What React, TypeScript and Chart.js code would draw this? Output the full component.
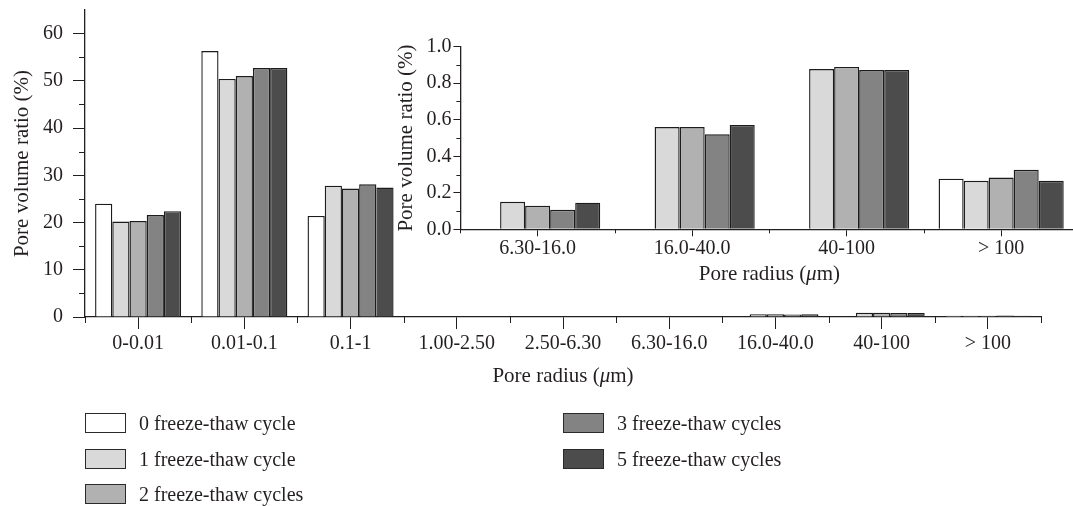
import React, { useEffect, useRef } from "react";
import { Chart, registerables } from "chart.js";

Chart.register(...registerables);

// ---------- data ----------
const categories = ["0-0.01", "0.01-0.1", "0.1-1", "1.00-2.50", "2.50-6.30", "6.30-16.0", "16.0-40.0", "40-100", "> 100"];
const seriesLabels = ["0 freeze-thaw cycle", "1 freeze-thaw cycle", "2 freeze-thaw cycles", "3 freeze-thaw cycles", "5 freeze-thaw cycles"];
const cycle0 = [24.0, 56.3, 21.4, 0, 0, 0, 0, 0, 0.277];
const cycle1 = [20.2, 50.4, 27.8, 0, 0, 0.151, 0.56, 0.878, 0.266];
const cycle2 = [20.3, 51.0, 27.2, 0, 0, 0.129, 0.56, 0.889, 0.283];
const cycle3 = [21.6, 52.7, 28.1, 0, 0, 0.107, 0.52, 0.872, 0.326];
const cycle5 = [22.4, 52.7, 27.4, 0, 0, 0.146, 0.571, 0.872, 0.266];
const insetStart = 5; // inset shows the last four pore radius classes
const mainYMinor = [5, 15, 25, 35, 45, 55];
const insetYMinor = [0.1, 0.3, 0.5, 0.7, 0.9];
const yTitle = "Pore volume ratio (%)";
const xTitleParts = ["Pore radius (", "\u03bc", "m)"];

// ---------- styles ----------
const ink = "#231f20";
const fills = ["#ffffff", "#d9d9d9", "#b1b1b1", "#838383", "#4c4c4c"];
const FONT = "'Liberation Serif', 'Times New Roman', serif";

Chart.defaults.font.family = FONT;
Chart.defaults.color = ink;

const allSeries = [cycle0, cycle1, cycle2, cycle3, cycle5];

function makeDatasets(start: number) {
  return allSeries.map((s, i) => ({
    label: seriesLabels[i],
    data: s.slice(start),
    backgroundColor: fills[i],
    borderColor: "#1c1c1c",
    borderWidth: 1.4,
    borderSkipped: "start" as const,
    categoryPercentage: 0.81,
    barPercentage: 1.0,
  }));
}

function decorPlugin(yMinor: number[], minorLen: number, titleDy: number, titleSize: number) {
  return {
    id: "decor",
    afterDraw(chart: any) {
      const { ctx, chartArea } = chart;
      const xs = chart.scales.x;
      const ys = chart.scales.y;
      const n = xs.getLabels().length;
      ctx.save();
      ctx.strokeStyle = ink;
      ctx.lineWidth = 1;
      ctx.beginPath();
      for (let k = 0; k <= n; k++) {
        const px = Math.round(xs.getPixelForValue(k - 0.5)) + 0.5;
        ctx.moveTo(px, chartArea.bottom);
        ctx.lineTo(px, chartArea.bottom + minorLen);
      }
      for (const v of yMinor) {
        const py = Math.round(ys.getPixelForValue(v)) + 0.5;
        ctx.moveTo(chartArea.left, py);
        ctx.lineTo(chartArea.left - minorLen, py);
      }
      ctx.stroke();
      // x-axis title with italic mu
      const fonts = [
        `${titleSize}px ${FONT}`,
        `italic ${titleSize}px ${FONT}`,
        `${titleSize}px ${FONT}`,
      ];
      let total = 0;
      const widths = xTitleParts.map((t, i) => {
        ctx.font = fonts[i];
        const w = ctx.measureText(t).width;
        total += w;
        return w;
      });
      let x = (chartArea.left + chartArea.right) / 2 - total / 2;
      const y = chartArea.bottom + titleDy;
      ctx.fillStyle = ink;
      ctx.textBaseline = "middle";
      ctx.textAlign = "left";
      xTitleParts.forEach((t, i) => {
        ctx.font = fonts[i];
        ctx.fillText(t, x, y);
        x += widths[i];
      });
      ctx.restore();
    },
  };
}

function baseOptions(cfg: {
  pad: { left: number; top: number; right: number; bottom: number };
  yWidth: number;
  xHeight: number;
  yMax: number;
  yStep: number;
  majorLen: number;
  xTickPad: number;
  yTickPad: number;
  decimals: number;
}) {
  return {
    responsive: false,
    animation: false as const,
    devicePixelRatio: 1,
    layout: { padding: cfg.pad },
    plugins: { legend: { display: false }, tooltip: { enabled: false } },
    scales: {
      x: {
        type: "category" as const,
        offset: true,
        grid: { offset: false, drawOnChartArea: false, drawTicks: true, tickLength: cfg.majorLen, color: ink, lineWidth: 1 },
        border: { display: true, color: ink, width: 1.3 },
        ticks: { padding: cfg.xTickPad, color: ink, font: { size: 20 }, maxRotation: 0, autoSkip: false },
        afterFit: (s: any) => {
          s.height = cfg.xHeight;
          s.paddingLeft = 0;
          s.paddingRight = 0;
        },
      },
      y: {
        min: 0,
        max: cfg.yMax,
        ticks: {
          stepSize: cfg.yStep,
          includeBounds: false,
          padding: cfg.yTickPad,
          color: ink,
          font: { size: 20 },
          callback: (v: any) => Number(v).toFixed(cfg.decimals),
        },
        grid: { drawOnChartArea: false, drawTicks: true, tickLength: cfg.majorLen, color: ink, lineWidth: 1 },
        border: { display: true, color: ink, width: 1.3 },
        title: { display: true, text: yTitle, color: ink, font: { size: 21 }, padding: 0 },
        afterFit: (s: any) => {
          s.width = cfg.yWidth;
          s.paddingTop = 0;
          s.paddingBottom = 0;
        },
      },
    },
  };
}

export default function App() {
  const mainRef = useRef<HTMLCanvasElement>(null);
  const insetRef = useRef<HTMLCanvasElement>(null);

  useEffect(() => {
    const main = new Chart(mainRef.current!, {
      type: "bar",
      data: { labels: categories, datasets: makeDatasets(0) },
      options: baseOptions({
        pad: { left: 9.4, top: 10, right: 32, bottom: 129 },
        yWidth: 75.6,
        xHeight: 60,
        yMax: 65,
        yStep: 10,
        majorLen: 12,
        xTickPad: 3,
        yTickPad: 10,
        decimals: 0,
      }) as any,
      plugins: [decorPlugin(mainYMinor, 6, 59, 21)],
    });
    const inset = new Chart(insetRef.current!, {
      type: "bar",
      data: { labels: categories.slice(insetStart), datasets: makeDatasets(insetStart) },
      options: baseOptions({
        pad: { left: 14.1, top: 26.7, right: 21.6, bottom: 10.7 },
        yWidth: 66.3,
        xHeight: 50,
        yMax: 1.0,
        yStep: 0.2,
        majorLen: 7,
        xTickPad: 0,
        yTickPad: 2,
        decimals: 1,
      }) as any,
      plugins: [decorPlugin(insetYMinor, 4, 45.2, 21)],
    });
    return () => {
      main.destroy();
      inset.destroy();
    };
  }, []);

  const legendPos = [
    { left: 85, top: 423 },
    { left: 85, top: 459 },
    { left: 85, top: 494 },
    { left: 563, top: 423 },
    { left: 563, top: 459 },
  ];

  return (
    <div
      style={{
        position: "absolute",
        left: 0,
        top: 0,
        width: 1073,
        height: 506,
        overflow: "hidden",
        background: "#fff",
        fontFamily: FONT,
      }}
    >
      <canvas ref={mainRef} width={1073} height={506} style={{ position: "absolute", left: 0, top: 0 }} />
      <canvas ref={insetRef} width={720} height={270} style={{ position: "absolute", left: 380, top: 20 }} />
      {seriesLabels.map((lab, i) => (
        <div
          key={lab}
          style={{
            position: "absolute",
            left: legendPos[i].left,
            top: legendPos[i].top - 10,
            height: 20,
            display: "flex",
            alignItems: "center",
            whiteSpace: "nowrap",
          }}
        >
          <div
            style={{
              width: 39,
              height: 18,
              background: fills[i],
              border: "1px solid #2a2a2a",
              marginRight: 13,
            }}
          />
          <span style={{ fontSize: 20, color: ink, lineHeight: "20px" }}>{lab}</span>
        </div>
      ))}
    </div>
  );
}
